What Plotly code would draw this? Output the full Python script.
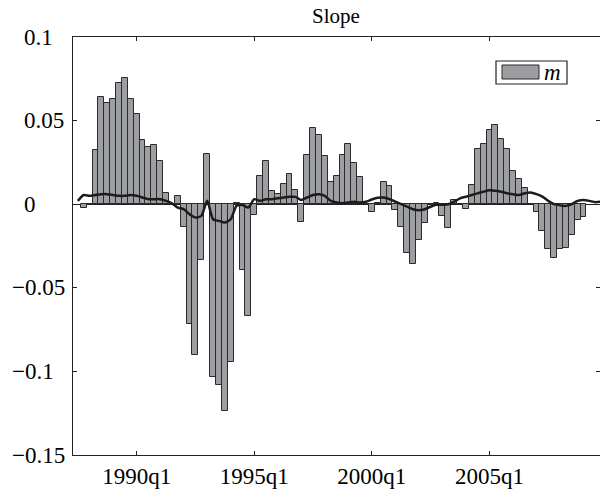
import plotly.graph_objects as go

# Quarter index: 0 = 1990q1
bar_quarters = list(range(-9, 77))
slope_m = [
    -0.002, 0.0, 0.0325, 0.0643, 0.0608, 0.0632, 0.0726, 0.0752, 0.0627, 0.0539,
    0.0385, 0.0343, 0.0357, 0.0261, 0.0066, 0.0, 0.005, -0.0134, -0.0719, -0.0904,
    -0.0332, 0.030, -0.1032, -0.1084, -0.1234, -0.0944, 0.0006, -0.0395, -0.0669, -0.0066,
    0.017, 0.026, 0.008, 0.0064, 0.0123, 0.018, 0.0084, -0.0104, 0.0293, 0.0453,
    0.0415, 0.029, 0.0134, 0.0168, 0.0293, 0.0363, 0.0247, 0.016, 0.0, -0.0046,
    0.0006, 0.0134, 0.011, -0.0034, -0.0136, -0.0293, -0.036, -0.0216, -0.0114, 0.0,
    0.0006, -0.007, -0.0144, 0.0025, 0.0, -0.003, 0.0114, 0.033, 0.0363, 0.0443,
    0.0473, 0.039, 0.033, 0.020, 0.0153, 0.0096, 0.0, -0.0044, -0.016, -0.027,
    -0.032, -0.027, -0.026, -0.0186, -0.0094, -0.0074,
]

line_quarters = list(range(-10, 80))
smooth_line = [
    0.002, 0.0055, 0.005, 0.0055, 0.006, 0.006, 0.0055, 0.005, 0.005, 0.0055,
    0.005, 0.004, 0.003, 0.003, 0.003, 0.002, 0.0005, -0.002, -0.003, -0.006,
    -0.008, -0.007, 0.002, -0.009, -0.010, -0.011, -0.009, -0.001, -0.0005, -0.002,
    0.003, 0.002, 0.003, 0.003, 0.0035, 0.004, 0.0044, 0.0044, 0.0025, 0.004,
    0.0055, 0.006, 0.005, 0.002, 0.001, 0.0006, 0.001, 0.0014, 0.001, 0.0015,
    0.0028, 0.0038, 0.004, 0.003, 0.0015, 0.0, -0.0015, -0.003, -0.0036, -0.003,
    -0.0015, -0.0004, -0.0003, 0.0, 0.0015, 0.0035, 0.0045, 0.0055, 0.0065, 0.0075,
    0.0083, 0.008, 0.0075, 0.0065, 0.006, 0.0055, 0.0065, 0.007, 0.006, 0.0045,
    0.002, 0.0, -0.0007, -0.001, 0.0, 0.002, 0.0025, 0.002, 0.0012, 0.0015,
]

x_tickvals = [0, 20, 40, 60]
x_ticktext = ["1990q1", "1995q1", "2000q1", "2005q1"]
y_tickvals = [-0.15, -0.1, -0.05, 0, 0.05, 0.1]
y_ticktext = ["\u22120.15", "\u22120.1", "\u22120.05", "0", "0.05", "0.1"]

SERIF = "Liberation Serif, Times New Roman, serif"
W, H = 600, 490
L, R, T, B = 73, 0, 37, 35
pw, ph = W - L - R, H - T - B


def px_x(p):
    return (p - L) / pw


def px_y(p):
    return (H - B - p) / ph


fig = go.Figure()
fig.add_trace(go.Bar(
    x=bar_quarters, y=slope_m, width=1.0,
    marker=dict(color="#9d9ea2", line=dict(color="#2a2a2a", width=1)),
    name="m", showlegend=False,
))
fig.add_trace(go.Scatter(
    x=line_quarters, y=smooth_line, mode="lines",
    line=dict(color="#1c1c1c", width=2.5, shape="spline", smoothing=0.6),
    showlegend=False,
))
# invisible trace to carry the right-hand tick axis
fig.add_trace(go.Scatter(x=[0], y=[0], yaxis="y2", mode="markers",
                         marker=dict(opacity=0), showlegend=False, hoverinfo="skip"))

fig.update_layout(
    width=W, height=H,
    margin=dict(l=L, r=R, t=T, b=B),
    paper_bgcolor="white", plot_bgcolor="white",
    bargap=0,
    font=dict(family=SERIF, size=23, color="black"),
    title=dict(text="Slope", x=px_x(336), xref="paper", xanchor="center",
               y=1 - 16 / H, yanchor="middle", font=dict(family=SERIF, size=21)),
    xaxis=dict(
        range=[-10.82, 78.8], tickvals=x_tickvals, ticktext=x_ticktext,
        ticks="inside", ticklen=4, tickcolor="#222", showgrid=False, zeroline=False,
        showline=True, linecolor="#222", linewidth=1.2, mirror="ticks",
        tickfont=dict(family=SERIF, size=23),
    ),
    yaxis=dict(
        range=[-0.15, 0.1], tickvals=y_tickvals, showticklabels=False,
        ticks="inside", ticklen=4, tickcolor="#222", showgrid=False,
        zeroline=True, zerolinecolor="#222", zerolinewidth=1,
        showline=True, linecolor="#222", linewidth=1.2,
    ),
    yaxis2=dict(
        overlaying="y", side="right", matches="y", range=[-0.15, 0.1],
        tickvals=y_tickvals, showticklabels=False, ticks="inside", ticklen=4,
        tickcolor="#222", showgrid=False, zeroline=False, showline=False,
    ),
)

# y tick labels, left-aligned in a sign column
for v, t in zip(y_tickvals, y_ticktext):
    left = 9.5 if v < 0 else 22
    fig.add_annotation(x=px_x(left), xref="paper", xanchor="left",
                       y=v, yref="y", yanchor="middle", text=t, showarrow=False,
                       font=dict(family=SERIF, size=23))

# legend box
fig.add_shape(type="rect", xref="paper", yref="paper",
              x0=px_x(496), x1=px_x(567), y0=px_y(84), y1=px_y(61),
              line=dict(color="#222", width=1.2), fillcolor="white")
fig.add_shape(type="rect", xref="paper", yref="paper",
              x0=px_x(502), x1=px_x(539), y0=px_y(79), y1=px_y(65),
              line=dict(color="#2a2a2a", width=1), fillcolor="#9d9ea2")
fig.add_annotation(x=px_x(542), xref="paper", xanchor="left",
                   y=px_y(72), yref="paper", yanchor="middle",
                   text="<i>m</i>", showarrow=False,
                   font=dict(family=SERIF, size=23))

fig.write_html("out.html")
